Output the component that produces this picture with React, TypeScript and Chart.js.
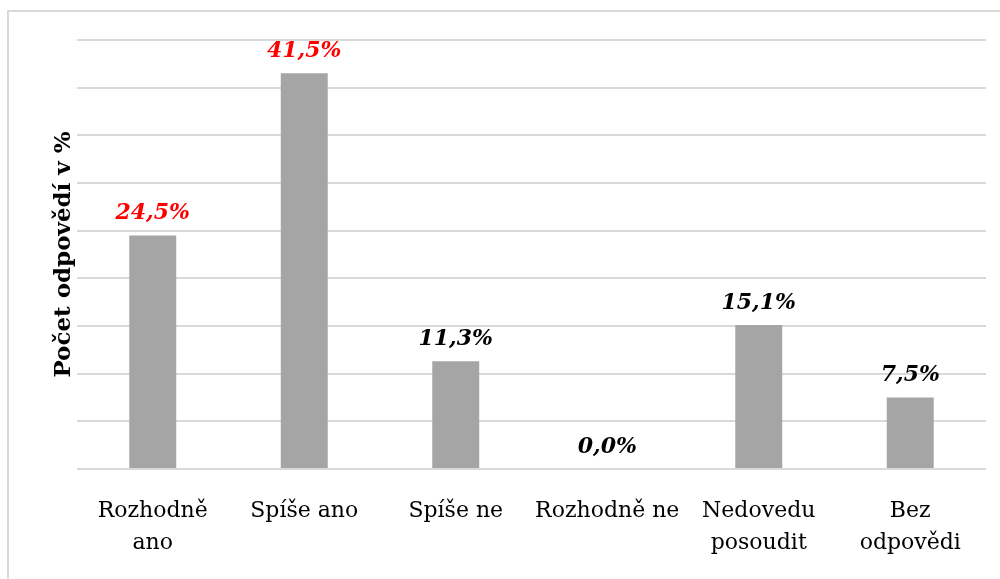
import React, { useEffect, useRef } from "react";
import { Chart, registerables } from "chart.js";

Chart.register(...registerables);

const categories: (string | string[])[] = [
  ["Rozhodně", "ano"],
  "Spíše ano",
  "Spíše ne",
  "Rozhodně ne",
  ["Nedovedu", "posoudit"],
  ["Bez", "odpovědi"],
];
const values: number[] = [24.5, 41.5, 11.3, 0.0, 15.1, 7.5];
const labelColors: string[] = ["#ff0000", "#ff0000", "#000000", "#000000", "#000000", "#000000"];
const yTitle = "Počet odpovědí v %";
const yMax = 45;
const yStep = 5;

const FONT = "'DejaVu Serif', 'Liberation Serif', serif";

const frameAndLabels = {
  id: "frameAndLabels",
  beforeDraw(chart: any) {
    const ctx = chart.ctx;
    ctx.save();
    ctx.fillStyle = "#ffffff";
    ctx.fillRect(0, 0, chart.width, chart.height);
    ctx.strokeStyle = "#d9d9d9";
    ctx.lineWidth = 2;
    ctx.strokeRect(8, 11, 1100, 700);
    ctx.restore();
  },
  afterDatasetsDraw(chart: any) {
    const ctx = chart.ctx;
    const meta = chart.getDatasetMeta(0);
    ctx.save();
    ctx.font = `italic bold 22px ${FONT}`;
    ctx.textAlign = "center";
    ctx.textBaseline = "bottom";
    meta.data.forEach((bar: any, i: number) => {
      const v = values[i];
      ctx.fillStyle = labelColors[i];
      ctx.fillText(v.toFixed(1).replace(".", ",") + "%", bar.x, bar.y - 11);
    });
    ctx.restore();
  },
};

export default function App() {
  const ref = useRef<HTMLCanvasElement>(null);
  useEffect(() => {
    if (!ref.current) return;
    const chart = new Chart(ref.current, {
      type: "bar",
      data: {
        labels: categories,
        datasets: [
          {
            data: values,
            backgroundColor: "#a5a5a5",
            barPercentage: 0.62,
            categoryPercentage: 0.5,
          },
        ],
      },
      options: {
        responsive: false,
        animation: false,
        layout: { padding: { left: 50, top: 40, right: 14, bottom: 0 } },
        plugins: { legend: { display: false }, tooltip: { enabled: false } },
        scales: {
          x: {
            grid: { display: false },
            border: { display: false },
            ticks: {
              color: "#000000",
              font: { family: FONT, size: 22, lineHeight: 1.45 },
              padding: 18,
              maxRotation: 0,
              autoSkip: false,
            },
            afterFit: (s: any) => {
              s.height = 110;
            },
          },
          y: {
            min: 0,
            max: yMax,
            ticks: { display: false, stepSize: yStep },
            grid: { color: "#d9d9d9", lineWidth: 2, drawTicks: false },
            border: { display: false },
            title: {
              display: true,
              text: yTitle,
              color: "#000000",
              font: { family: FONT, size: 23, weight: "bold", lineHeight: 1.2 },
              padding: 0,
            },
            afterFit: (s: any) => {
              s.width = 27;
            },
          },
        },
      },
      plugins: [frameAndLabels],
    });
    return () => chart.destroy();
  }, []);
  return (
    <div style={{ position: "fixed", left: 0, top: 0, width: 1000, height: 579 }}>
      <canvas ref={ref} width={1000} height={579} style={{ width: 1000, height: 579 }} />
    </div>
  );
}
